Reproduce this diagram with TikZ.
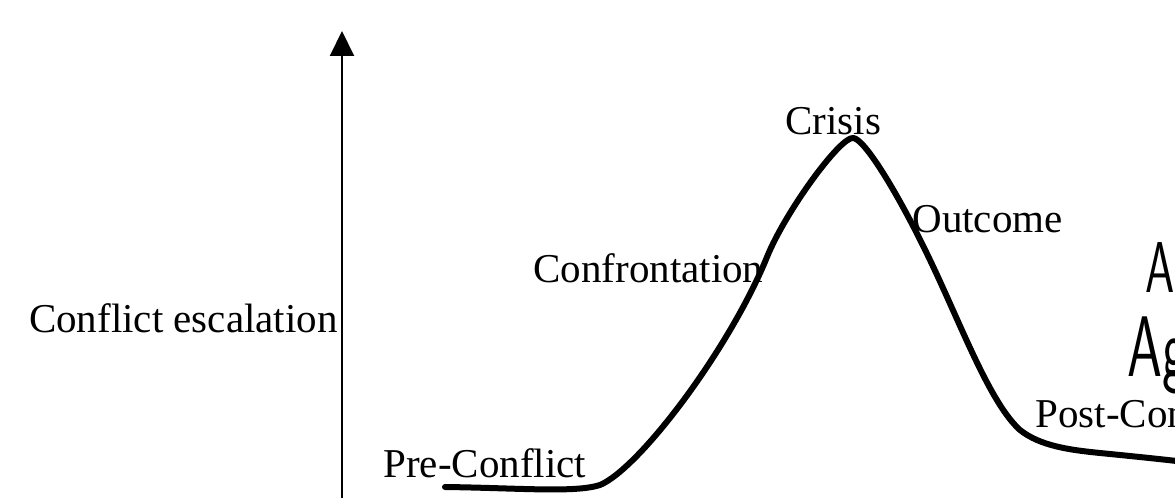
\documentclass[tikz,border=0pt]{standalone}
\usepackage{fontspec}
\setmainfont{Liberation Serif}
\usetikzlibrary{arrows.meta, positioning}

\begin{document}
\begin{tikzpicture}[x=0.5pt, y=0.5pt,
  lbl/.style={font=\fontsize{20.5}{24}\selectfont, inner sep=0pt},
  hand/.style={font=\sffamily, inner sep=0pt, anchor=base west, xscale=0.65},
  curve/.style={line width=3pt, line cap=round, line join=round},
  axis/.style={line width=1pt, -{Triangle[length=12.5pt,width=12pt]}}]
\useasboundingbox (0,0) rectangle (1175,498);

% Vertical axis
\coordinate (axbot) at (342,0);
\coordinate (axtop) at (342,467);
\draw[axis] (axbot) -- (axtop);
\node[lbl, anchor=base east] (escal) at (338,165) {Conflict escalation};

% Escalation curve
\draw[curve] (445,11) .. controls (520,10) and (575,5) .. (600,13)
  .. controls (640,30) and (730,150) .. (767,241)
  .. controls (785.5,286.5) and (840,361) .. (853,360)
  .. controls (864,360) and (898,305) .. (930,238)
  .. controls (962,171) and (990,95) .. (1020,68)
  .. controls (1040,52) and (1070,48) .. (1100,45)
  .. controls (1130,42) and (1160,39) .. (1185,36);

% Phase labels
\node[lbl, anchor=base west] (pre) at (383,20) {Pre-Conflict};
\node[lbl, anchor=base west] (confr) at (533,215) {Confrontation};
\node[lbl, anchor=base west] (crisis) at (785,363) {Crisis};
\node[lbl, anchor=base west] (outc) at (912,265) {Outcome};
\node[lbl, anchor=base west] (post) at (1035,70) {Post-Conflict};

% Cut-off labels on the right
\node[hand, font=\sffamily\fontsize{36}{40}\selectfont] (rA) at (1145,205) {A};
\node[hand, font=\sffamily\fontsize{43}{48}\selectfont] (rAg) at (1127,121) {Ag};
\end{tikzpicture}
\end{document}
